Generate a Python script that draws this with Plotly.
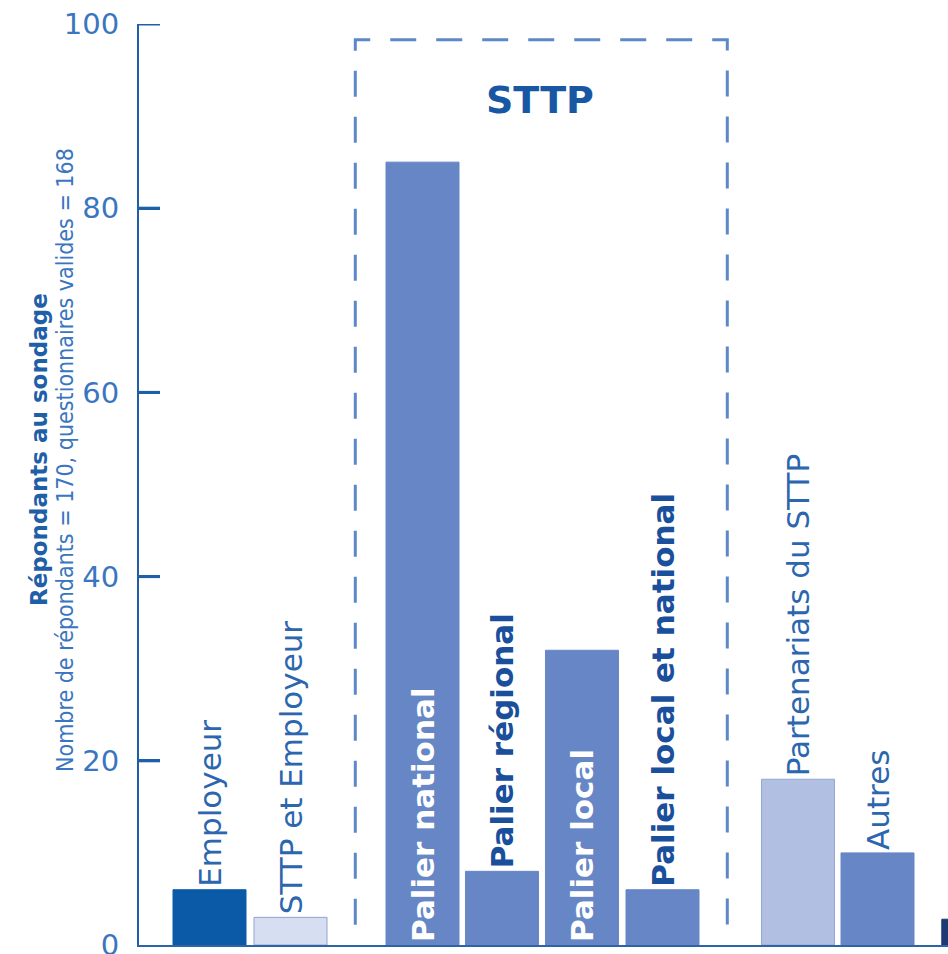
import plotly.graph_objects as go

# ---- data ----
categories = ["Employeur", "STTP et Employeur", "Palier national", "Palier régional",
              "Palier local", "Palier local et national", "Partenariats du STTP", "Autres", ""]
values = [6, 3, 85, 8, 32, 6, 18, 10, 2.8]
y_ticks = [0, 20, 40, 60, 80, 100]
group_label = "STTP"
y_title_main = "Répondants au sondage"
y_title_sub = "Nombre de répondants = 170, questionnaires valides = 168"

# ---- layout/positions (not data) ----
positions = [0, 1.0125, 2.6625, 3.656, 4.656, 5.6625, 7.356, 8.35, 9.61]
bar_w = 0.9125
colors = ["#0b5aa8", "#d6dff1", "#6686c6", "#6686c6", "#6686c6", "#6686c6",
          "#b1c0e2", "#6686c6", "#1d3a72"]
outline = ["#0b5aa8", "#8fa3cf", "#6686c6", "#6686c6", "#6686c6", "#6686c6",
           "#93a7d4", "#6686c6", "#1d3a72"]
text_pos = ["outside", "outside", "inside", "outside", "inside", "outside",
            "outside", "outside", "none"]
label_style = ["reg", "reg", "inbold", "bold", "inbold", "bold", "reg", "reg", "none"]

texts, tcolors = [], []
for c, s in zip(categories, label_style):
    if s == "reg":
        texts.append(c); tcolors.append("#2b66ae")
    elif s == "bold":
        texts.append("<b>" + c + "</b>"); tcolors.append("#1a4f9c")
    elif s == "inbold":
        texts.append("<b>" + c + "</b>"); tcolors.append("#ffffff")
    else:
        texts.append(""); tcolors.append("#ffffff")

L = 139  # left margin px
W = 948 - L
axis_col = "#1f5fa8"
fig = go.Figure()
fig.add_trace(go.Bar(
    x=positions, y=values, width=bar_w,
    marker=dict(color=colors, line=dict(color=outline, width=1)),
    text=texts, textposition=text_pos, textangle=-90,
    insidetextanchor="start", constraintext="none",
    textfont=dict(family="DejaVu Sans", size=31, color=tcolors),
    cliponaxis=False, hoverinfo="skip",
))

fig.update_layout(
    width=948, height=954,
    margin=dict(l=L, r=0, t=24, b=9, autoexpand=False),
    paper_bgcolor="white", plot_bgcolor="white",
    showlegend=False,
    xaxis=dict(range=[(L - 209.5) / 80, (948 - 209.5) / 80], showgrid=False, zeroline=False,
               showticklabels=False, ticks="", showline=True, automargin=False,
               linecolor="#2e63a8", linewidth=2),
    yaxis=dict(range=[0, 100], tickvals=y_ticks, showgrid=False, zeroline=False,
               showline=True, linecolor=axis_col, linewidth=2, automargin=False,
               ticks="inside", ticklen=21, tickwidth=3, tickcolor=axis_col,
               ticklabelstandoff=12, ticklabeloverflow="allow",
               tickfont=dict(family="DejaVu Sans", size=29, color="#3a76bf")),
)

# tick marks (drawn explicitly on the y scale, pointing into the plot)
for t in y_ticks[1:]:
    fig.add_shape(type="line", xref="paper", yref="y", x0=0, x1=21 / W, y0=t, y1=t,
                  line=dict(color=axis_col, width=3), layer="above")

# dashed group box (open at bottom)
x0 = positions[2] - 0.84
x1 = positions[5] + 0.81
fig.add_shape(type="path",
              path=f"M {x0},2.2 L {x0},98.3 L {x1},98.3 L {x1},2.2",
              xref="x", yref="y",
              line=dict(color="#5d88c8", width=3, dash="26px,20px"))

fig.add_annotation(x=(positions[2] + positions[5]) / 2 - 0.03, y=91.7, xref="x", yref="y",
                   text="<b>" + group_label + "</b>", showarrow=False,
                   font=dict(family="DejaVu Sans", size=38, color="#1757a3"))

# y-axis titles
fig.add_annotation(x=(39 - L) / W, y=(945 - 450) / 921, xref="paper", yref="paper",
                   xanchor="center", yanchor="middle",
                   text="<b>" + y_title_main + "</b>", textangle=-90,
                   showarrow=False,
                   font=dict(family="DejaVu Sans", size=23, color=axis_col))
fig.add_annotation(x=(65 - L) / W, y=(945 - 460) / 921, xref="paper", yref="paper",
                   xanchor="center", yanchor="middle",
                   text=y_title_sub, textangle=-90, showarrow=False,
                   font=dict(family="DejaVu Sans Condensed", size=23, color="#3a76bf"))

fig.write_html("out.html")
